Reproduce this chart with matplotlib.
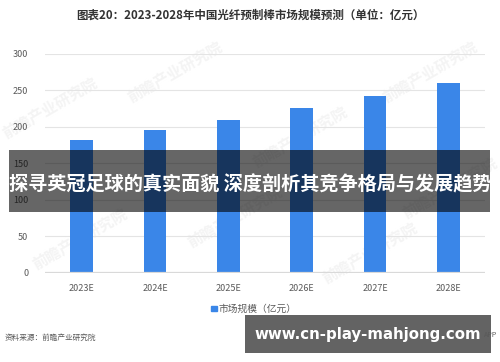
import matplotlib
matplotlib.use('Agg')
from matplotlib import pyplot as plt
from matplotlib.patches import Rectangle

plt.rcParams['font.family'] = ['Noto Sans CJK SC', 'DejaVu Sans']

# data
years = ['2023E', '2024E', '2025E', '2026E', '2027E', '2028E']
market = [182, 196, 210, 226, 243, 260]
y_ticks = [0, 50, 100, 150, 200, 250, 300]

title = '图表20：2023-2028年中国光纤预制棒市场规模预测（单位：亿元）'
legend_label = '市场规模（亿元）'
source = '资料来源：前瞻产业研究院'
banner = '探寻英冠足球的真实面貌 深度剖析其竞争格局与发展趋势'
url = 'www.cn-play-mahjong.com'

fig = plt.figure(figsize=(5, 3.62), dpi=100)

# faint watermarks behind the plot
for (wx, wy) in [(0.10, 0.70), (0.35, 0.80), (0.60, 0.62), (0.86, 0.80),
                 (0.16, 0.34), (0.47, 0.40), (0.74, 0.30), (0.90, 0.48)]:
    fig.text(wx, wy, '前瞻产业研究院', fontsize=11, color='#f4f4f4',
             rotation=30, ha='center', va='center', fontweight='bold', zorder=0)

ax = fig.add_axes([0.09, 0.246, 0.88, 0.605])
ax.set_zorder(1)
ax.patch.set_alpha(0)

ax.bar(range(len(years)), market, width=0.31, color='#3a86e8', zorder=3)
ax.set_xlim(-0.5, len(years) - 0.5)
ax.set_ylim(0, 300)
ax.set_yticks(y_ticks)
ax.set_xticks(range(len(years)))
ax.set_xticklabels(years)
ax.grid(axis='y', color='#e4e4e4', linewidth=0.8, zorder=0)
ax.axhline(0, color='#d9d9d9', linewidth=1.6, zorder=4)
for s in ax.spines.values():
    s.set_visible(False)
ax.tick_params(axis='both', length=0, labelsize=6.5, colors='#595959')
ax.tick_params(axis='y', pad=12)
ax.tick_params(axis='x', pad=8)
ax.set_axisbelow(True)

fig.text(0.5, 0.958, title, ha='center', va='center', fontsize=8.3,
         fontweight='bold', color='#333333')

# legend
fig.patches.append(Rectangle((0.422, 0.14), 0.011, 0.015, transform=fig.transFigure,
                             color='#3a86e8'))
fig.text(0.437, 0.147, legend_label, ha='left', va='center', fontsize=7,
         color='#595959')

fig.text(0.01, 0.066, source, ha='left', va='center', fontsize=5.5, color='#595959')
fig.text(0.968, 0.074, 'APP', ha='left', va='center', fontsize=5, color='#595959',
         zorder=12)

# overlay banner across the chart
fig.patches.append(Rectangle((0.018, 0.414), 0.962, 0.171, transform=fig.transFigure,
                             facecolor='black', alpha=0.6, zorder=10))
fig.text(0.5, 0.49, banner, ha='center', va='center', fontsize=13.8,
         fontweight='bold', color='white', zorder=11)

# bottom url box
fig.patches.append(Rectangle((0.49, 0.025), 0.492, 0.105, transform=fig.transFigure,
                             facecolor='#636363', zorder=10))
fig.text(0.735, 0.077, url, ha='center', va='center', fontsize=10.8,
         fontweight='bold', color='white', family=['DejaVu Sans'], zorder=11)

fig.savefig('out.png', dpi=100)
